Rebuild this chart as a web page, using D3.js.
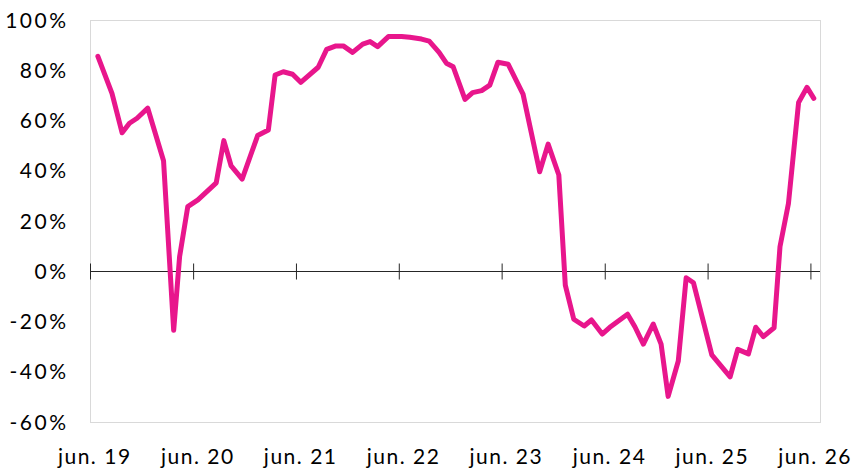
<!DOCTYPE html>
<html>
<head>
<meta charset="utf-8">
<script src="https://cdn.jsdelivr.net/npm/d3@7"></script>
<style>
  body { margin: 0; background: #fff; }
  svg text { font-family: "Lato", "Noto Sans", sans-serif; fill: #000; }
</style>
</head>
<body>
<svg id="chart" width="855" height="474"></svg>
<script>
// Vertices of the series (date, percent)
const dates = [
  '2019-06-29', '2019-08-18', '2019-09-23', '2019-10-19', '2019-11-15', '2019-12-23',
  '2020-02-17', '2020-03-24', '2020-04-14', '2020-05-13', '2020-06-18', '2020-08-22',
  '2020-09-18', '2020-10-14', '2020-11-22', '2021-01-16', '2021-02-23', '2021-03-19',
  '2021-04-17', '2021-05-20', '2021-06-18', '2021-08-19', '2021-09-18', '2021-10-21',
  '2021-11-16', '2021-12-19', '2022-01-24', '2022-02-19', '2022-03-18', '2022-04-25',
  '2022-06-11', '2022-07-10', '2022-08-21', '2022-09-17', '2022-10-22', '2022-11-17',
  '2022-12-11', '2023-01-22', '2023-02-18', '2023-03-22', '2023-04-20', '2023-05-19',
  '2023-06-24', '2023-08-16', '2023-10-14', '2023-11-13', '2023-12-21', '2024-01-13',
  '2024-02-12', '2024-03-20', '2024-04-15', '2024-05-23', '2024-06-19', '2024-08-21',
  '2024-09-16', '2024-10-16', '2024-11-20', '2024-12-18', '2025-01-12', '2025-02-17',
  '2025-03-17', '2025-04-12', '2025-06-16', '2025-08-20', '2025-09-16', '2025-10-24',
  '2025-11-19', '2025-12-16', '2026-01-23', '2026-02-13', '2026-03-15', '2026-04-20',
  '2026-05-20', '2026-06-13',
];
const values = [
  85.5, 70.8, 55.1, 58.9, 60.9, 64.9,
  44.0, -23.5, 5.8, 25.7, 28.4, 35.2,
  52.0, 41.9, 36.7, 54.0, 56.2, 78.1,
  79.4, 78.4, 75.2, 81.2, 88.3, 89.7,
  89.7, 87.1, 90.4, 91.4, 89.4, 93.4,
  93.4, 93.1, 92.4, 91.6, 87.1, 82.8,
  81.4, 68.4, 71.1, 71.9, 74.1, 83.2,
  82.4, 70.5, 39.6, 50.6, 38.3, -5.5,
  -19.1, -21.8, -19.4, -25.0, -22.3, -17.1,
  -22.1, -29.0, -21.0, -29.0, -49.8, -35.7,
  -2.6, -4.6, -33.3, -42.0, -31.1, -32.9,
  -22.3, -26.0, -22.5, 9.8, 27.0, 67.2,
  73.2, 68.8,
];
const yTicks = [-60, -40, -20, 0, 20, 40, 60, 80, 100];
const xTickDates = ['2019-06-01', '2020-06-01', '2021-06-01', '2022-06-01',
  '2023-06-01', '2024-06-01', '2025-06-01', '2026-06-01'];
const xTickLabels = ['jun. 19', 'jun. 20', 'jun. 21', 'jun. 22',
  'jun. 23', 'jun. 24', 'jun. 25', 'jun. 26'];

const parse = d3.timeParse('%Y-%m-%d');
const svg = d3.select('#chart');
const plot = { left: 90, right: 820, top: 20, bottom: 422 };

const x = d3.scaleTime()
  .domain([parse('2019-06-01'), parse('2026-07-05')])
  .range([plot.left, plot.right]);
const y = d3.scaleLinear()
  .domain([-60, 100])
  .range([plot.bottom, plot.top]);

// plot area frame
svg.append('rect')
  .attr('x', plot.left + 0.5).attr('y', plot.top + 0.5)
  .attr('width', plot.right - plot.left).attr('height', plot.bottom - plot.top)
  .attr('fill', 'none').attr('stroke', '#d9d9d9').attr('stroke-width', 1);

// y labels (no axis line, the frame stands in)
// letter-spacing also trails the last glyph, so nudge the anchor right by it
svg.append('g')
  .selectAll('text')
  .data(yTicks)
  .join('text')
  .attr('x', 66 + 2.5)
  .attr('y', (d) => y(d))
  .attr('dy', '0.36em')
  .attr('text-anchor', 'end')
  .attr('font-size', 21)
  .attr('letter-spacing', 2.5)
  .text((d) => d + '%');

// horizontal axis drawn at zero with crossing ticks
const zeroY = Math.round(y(0)) + 0.5;
const xAxis = d3.axisBottom(x)
  .tickValues(xTickDates.map(parse))
  .tickSize(0)
  .tickFormat('');
const axisG = svg.append('g')
  .attr('transform', `translate(0,${zeroY})`)
  .call(xAxis);
axisG.select('.domain').attr('d', `M${plot.left},0H${plot.right}`).attr('stroke', '#262626');
axisG.selectAll('.tick line')
  .attr('y1', -8).attr('y2', 8)
  .attr('stroke', '#262626');

// x labels along the bottom
svg.append('g')
  .selectAll('text')
  .data(xTickDates)
  .join('text')
  .attr('x', (d) => x(parse(d)) + 4 + 0.75)
  .attr('y', 464)
  .attr('text-anchor', 'middle')
  .attr('font-size', 21)
  .attr('letter-spacing', 1.5)
  .text((d, i) => xTickLabels[i]);

// the series
const line = d3.line()
  .x((d) => x(parse(d[0])))
  .y((d) => y(d[1]));
svg.append('path')
  .datum(dates.map((d, i) => [d, values[i]]))
  .attr('d', line)
  .attr('fill', 'none')
  .attr('stroke', '#e8168c')
  .attr('stroke-width', 5)
  .attr('stroke-linejoin', 'round')
  .attr('stroke-linecap', 'round');
</script>
</body>
</html>
